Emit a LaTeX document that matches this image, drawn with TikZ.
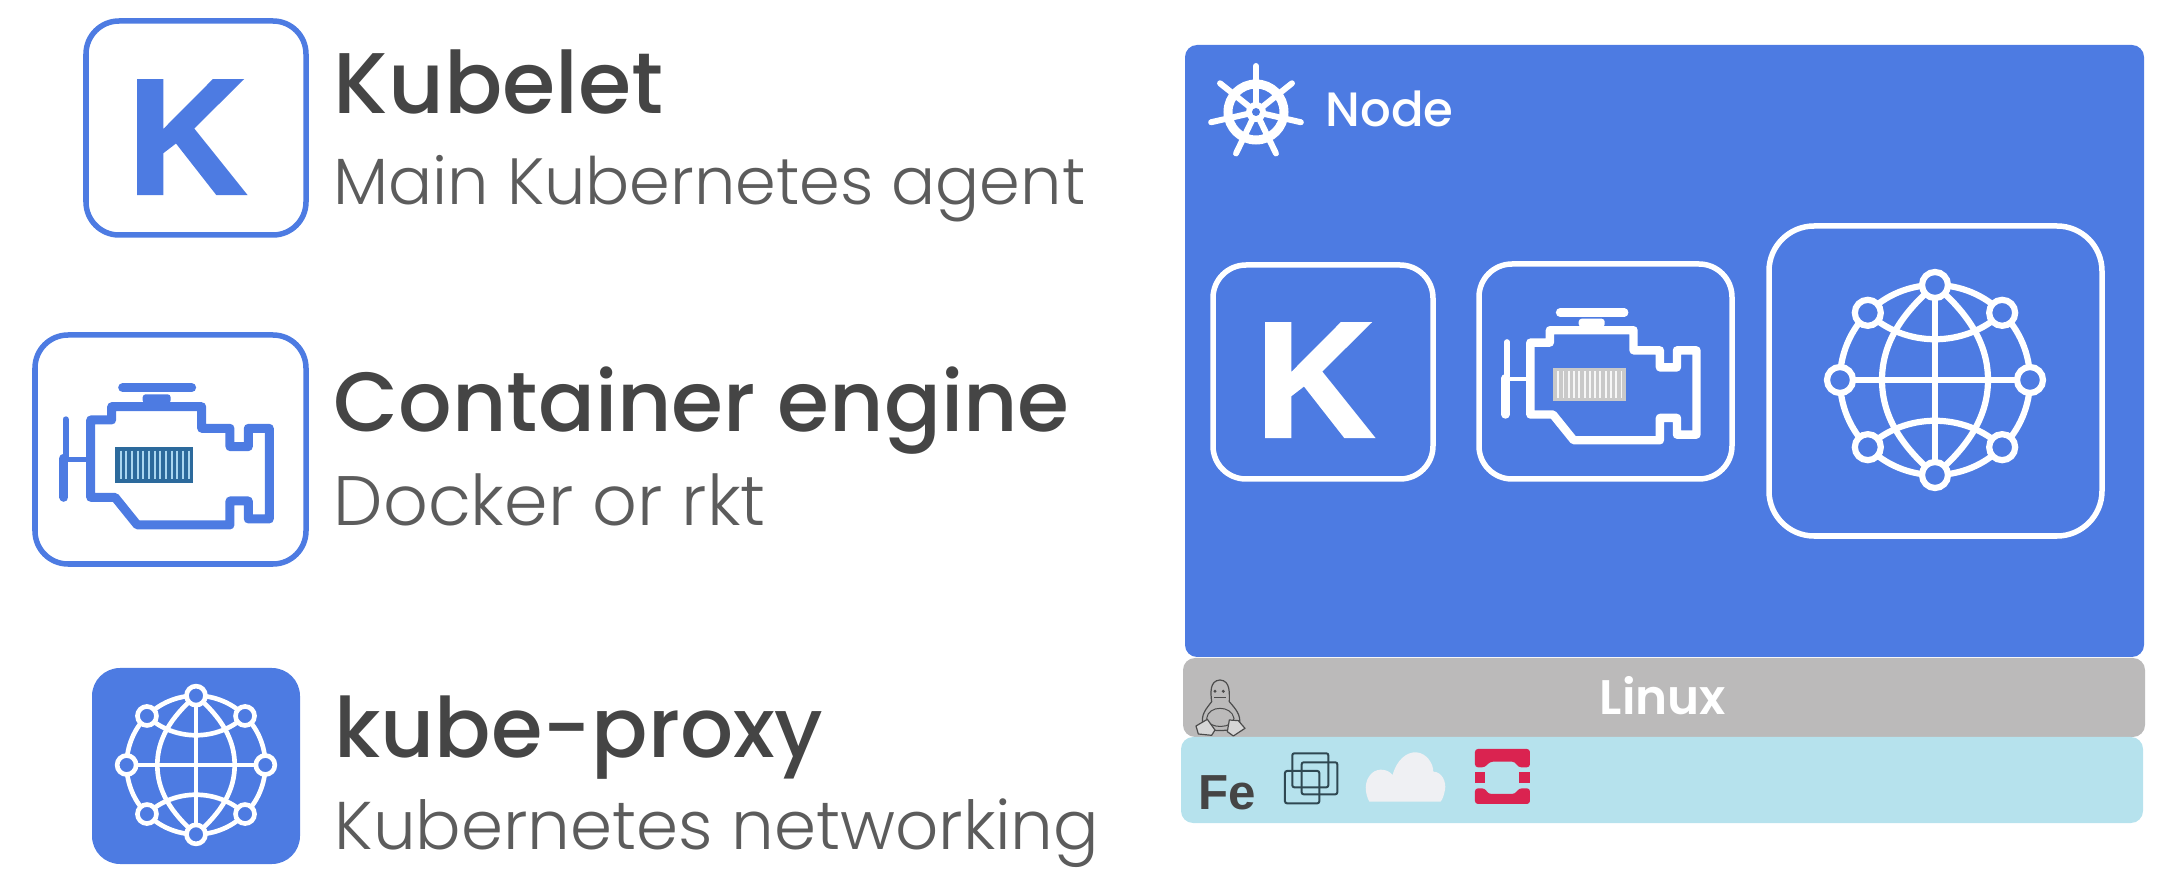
\documentclass[tikz,border=0pt]{standalone}
\usepackage{fontspec}
\setmainfont{Poppins Light}
\newfontfamily\headfont{Poppins Medium}
\newfontfamily\labelfont{Poppins SemiBold}
\newfontfamily\letterfont{Liberation Sans}
\newfontfamily\heavyfont[BoldFeatures={FakeBold=1.5}]{Liberation Sans}
\usepackage{tikz}
\definecolor{kubeblue}{HTML}{4D7BE2}
\definecolor{linuxgray}{HTML}{BBBABA}
\definecolor{feblue}{HTML}{B6E2ED}
\definecolor{textgray}{HTML}{454545}
\definecolor{subgray}{HTML}{5C5C5C}
\definecolor{cratedark}{HTML}{2C6A9C}
\definecolor{cratelight}{HTML}{A9D6F0}
\definecolor{crategray}{HTML}{C9C9C9}
\definecolor{stackred}{HTML}{DA2350}
\definecolor{vmdark}{HTML}{2F4852}
\definecolor{cloudwhite}{HTML}{EFF0F3}
\tikzset{
	headtxt/.style={font=\headfont\fontsize{#1}{30}\selectfont,text=textgray,anchor=base west,inner sep=0pt},
	subtxt/.style={font=\fontsize{#1}{24}\selectfont,text=subgray,anchor=base west,inner sep=0pt},
	kletter/.style={font=\heavyfont\bfseries\fontsize{47}{50}\selectfont,anchor=base,inner sep=0pt},
	iconbox/.style={line width=.055cm,rounded corners=.33cm},
	layerbox/.style={rounded corners=.12cm},
}

\newcommand{\engineicon}[5]{
	\begin{scope}[shift={(#1,#2)},scale=#3]
		\draw[#4,line width=3*#3*.09cm,line join=round]
		(272,360) -- (272,592) -- (345,592) -- (412,675) -- (690,675) -- (690,603)
		-- (745,603) -- (745,657) -- (808,657) -- (808,385) -- (745,385) -- (745,440)
		-- (690,440) -- (690,385) -- (605,385) -- (605,320) -- (335,320) -- (335,360) -- cycle;
		
		\fill[#4,rounded corners=.03cm] (428,283) rectangle (512,310);
		
		\draw[#4,line width=3*#3*.09cm,line cap=round] (368,263) -- (575,263);
		\draw[#4,line width=3*#3*.06cm,line cap=round] (197,358) -- (197,470);
		\draw[#4,line width=3*#3*.09cm,line cap=round] (192,475) -- (192,592);
		\draw[#4,line width=3*#3*.045cm] (205,478) -- (265,478);
		
		\fill[#5] (345,442) rectangle (580,548);
		\foreach \i in {0,...,12}
		\draw[crateline,line width=3*#3*.02cm] (362+\i*17,452) -- (362+\i*17,538);
	\end{scope}
}

\newcommand{\globeicon}[5]{
	\begin{scope}[shift={(#1,#2)},scale=#3,line width=#4*.062cm,draw=white]
		\draw (0,0) circle (95);
		\draw (0,-95) .. controls (35,-65) and (53,-35) .. (53,0)
		.. controls (53,35) and (35,65) .. (0,95)
		.. controls (-35,65) and (-53,35) .. (-53,0)
		.. controls (-53,-35) and (-35,-65) .. (0,-95);
		\draw (-95,0) -- (95,0);
		\draw (0,-95) -- (0,95);
		\draw (-67,-67) .. controls (-30,-32) and (30,-32) .. (67,-67);
		\draw (-67,67) .. controls (-30,32) and (30,32) .. (67,67);
		\foreach \a in {0,45,...,315}
		\draw[fill=#5] (\a:95) circle (13);
	\end{scope}
}

\begin{document}
\begin{tikzpicture}[x=.01cm,y=-.01cm]
	\useasboundingbox (0,0) rectangle (2177,882);
	
	\draw[iconbox,kubeblue] (86,21) rectangle (306,235);
	\node[kletter,text=kubeblue] (kubeletk) at (187,194) {K};
	\node[headtxt=24.5] (kubelethead) at (333,114) {Kubelet};
	\node[subtxt=18.6] (kubeletsub) at (333,205) {Main Kubernetes agent};
	
	\draw[iconbox,kubeblue] (35,335) rectangle (306,564);
	\tikzset{crateline/.style={cratelight}}
	\engineicon{0}{300}{.3333}{kubeblue}{cratedark}
	\node[headtxt=23.9] (enginehead) at (333,432) {Container engine};
	\node[subtxt=19.9] (enginesub) at (333,526) {Docker or rkt};
	
	\fill[kubeblue,rounded corners=.28cm] (92,668) rectangle (300,864);
	\globeicon{196}{765}{.73}{.75}{kubeblue}
	\node[headtxt=23.7] (proxyhead) at (334,758) {kube-proxy};
	\node[subtxt=19.2] (proxysub) at (334,850) {Kubernetes networking};
	
	\fill[kubeblue,layerbox] (1185,45) rectangle (2144,657);
	\fill[linuxgray,layerbox] (1183,658) rectangle (2145,737);
	\fill[feblue,layerbox] (1181,737) rectangle (2143,823);
	
	\begin{scope}[shift={(1256,112)}]
		\foreach \a in {0,...,6}
		\draw[white,line width=.06cm,line cap=round] (0,0) -- (-90+\a*51.43:46);
		\draw[white,line width=.09cm] (0,0) circle (28);
		\fill[white] (0,0) circle (10);
		\fill[kubeblue] (0,0) circle (4);
	\end{scope}
	\node[font=\headfont\fontsize{13.7}{16}\selectfont,text=white,anchor=base west,inner sep=0pt] (nodelabel) at (1325,127) {Node};
	
	\draw[iconbox,white] (1213,265) rectangle (1433,479);
	\node[kletter,text=white] (nodek) at (1315,437) {K};
	
	\draw[iconbox,white] (1479,264) rectangle (1732,479);
	\tikzset{crateline/.style={white!85!crategray}}
	\engineicon{1446}{231}{.31}{white}{crategray}
	
	\draw[iconbox,white,rounded corners=.45cm] (1769,226) rectangle (2102,536);
	\globeicon{1935}{380}{1}{1}{kubeblue}
	
	\node[font=\labelfont\fontsize{13.8}{16}\selectfont,text=white,anchor=base,inner sep=0pt] (linuxlabel) at (1663,715) {Linux};
	
	\begin{scope}[shift={(1170,650)},scale=.3333]
		\draw[black!70,line width=.012cm,fill=linuxgray]
		(150,90) .. controls (182,92) and (178,130) .. (178,155)
		.. controls (195,175) and (215,195) .. (208,225)
		.. controls (190,245) and (120,250) .. (100,225)
		.. controls (90,195) and (110,175) .. (125,155)
		.. controls (122,130) and (118,92) .. (150,90) -- cycle;
		\draw[black!70,line width=.01cm] (110,205) .. controls (115,165) and (185,165) .. (192,205)
		.. controls (192,235) and (115,240) .. (110,205);
		\draw[black!70,line width=.012cm,line join=round,fill=linuxgray!60!white]
		(78,228) -- (112,208) -- (135,240) -- (125,256) -- (85,252) -- cycle;
		\draw[black!70,line width=.012cm,line join=round,fill=linuxgray!60!white]
		(178,210) -- (205,212) -- (225,235) -- (190,258) -- (172,245) -- cycle;
		\fill[black!70] (135,124) circle (5);
		\fill[black!70] (160,124) circle (5);
		\draw[black!70,line width=.01cm] (132,142) -- (168,142);
	\end{scope}
	
	\node[font=\letterfont\bfseries\fontsize{14}{15}\selectfont,text=textgray,anchor=base west,inner sep=0pt] (felabel) at (1198,809) {Fe};
	
	\begin{scope}[shift={(1170,650)},scale=.3333]
		\draw[vmdark,line width=.02cm,rounded corners=.02cm] (367,310) rectangle (475,412);
		\draw[vmdark,line width=.02cm,rounded corners=.02cm] (395,337) rectangle (502,433);
		\draw[vmdark,line width=.02cm,rounded corners=.02cm] (345,363) rectangle (448,460);
		
		\fill[cloudwhite] (598,455) .. controls (585,430) and (580,395) .. (605,370)
		.. controls (625,352) and (655,358) .. (668,375)
		.. controls (680,330) and (710,305) .. (740,307)
		.. controls (770,310) and (790,340) .. (790,365)
		.. controls (815,365) and (830,395) .. (825,420)
		.. controls (822,435) and (818,448) .. (812,455) -- cycle;
		
		\fill[stackred,rounded corners=.03cm] (915,297) -- (1080,297) -- (1080,352) -- (1045,352) -- (1035,335) -- (960,335) -- (945,352) -- (915,352) -- cycle;
		\fill[stackred] (915,367) rectangle (945,400);
		\fill[stackred] (1047,367) rectangle (1080,400);
		\fill[stackred,rounded corners=.03cm] (915,415) -- (945,415) -- (955,432) -- (1035,432) -- (1047,415) -- (1080,415) -- (1080,462) -- (915,462) -- cycle;
	\end{scope}
\end{tikzpicture}
\end{document}
